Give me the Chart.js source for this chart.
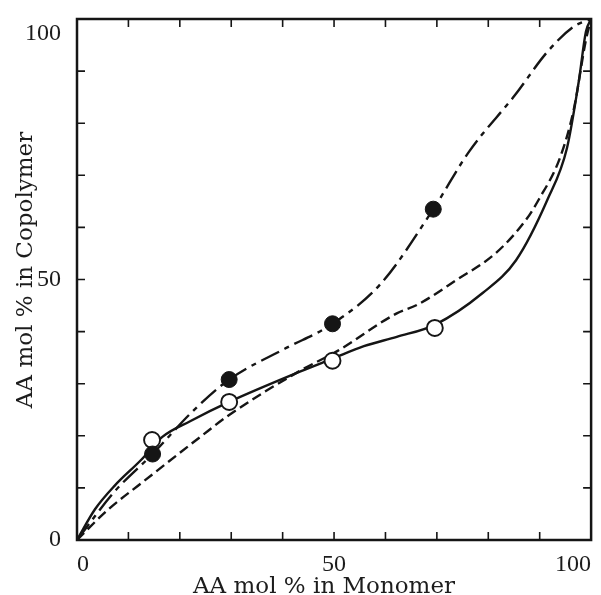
<!DOCTYPE html>
<html>
<head>
<meta charset="utf-8">
<script src="https://cdn.jsdelivr.net/npm/chart.js@4"></script>
<style>
  html, body { margin: 0; padding: 0; background: #fff; }
  #wrap { width: 601px; height: 595px; }
</style>
</head>
<body>
<div id="wrap"><canvas id="chart"></canvas></div>
<script>
// tick labels and minor tick marks
const xTicks = [0, 50, 100];
const yTicks = [0, 50, 100];
const minorTicks = [10, 20, 30, 40, 50, 60, 70, 80, 90];

// measured points
const filledX = [14.7, 29.6, 49.7, 69.3];
const filledY = [16.5, 30.8, 41.5, 63.5];
const openX = [14.6, 29.6, 49.7, 69.6];
const openY = [19.2, 26.5, 34.4, 40.7];

// curves
const dashDotX = [0, 7.3, 14.7, 22.4, 29.6, 40.4, 49.7, 59.1, 69.3, 76.3, 85.2, 91.5, 96.7, 100];
const dashDotY = [0, 9.3, 16.5, 24.6, 30.8, 36.7, 41.5, 49.2, 63.5, 74.6, 85.4, 93.7, 98.6, 100];

const solidX = [0, 3.5, 7.3, 12.5, 16.6, 22.0, 29.6, 43.6, 49.7, 55.8, 62.2, 69.6, 78.9, 85.4, 91.5, 95.3, 97.6, 99.0, 100];
const solidY = [0, 5.9, 10.4, 15.4, 19.8, 22.8, 26.5, 32.4, 34.8, 37.2, 39.0, 41.3, 47.4, 53.7, 65.3, 75.2, 88.0, 97.6, 100];

const dashedX = [0, 6.0, 12.5, 24.0, 29.6, 43.6, 50.7, 62.2, 66.1, 73.8, 81.5, 87.3, 89.8, 94.0, 96.6, 99.0, 100];
const dashedY = [0, 5.8, 10.9, 19.8, 24.0, 32.6, 36.3, 43.5, 45.1, 49.9, 55.1, 61.4, 65.3, 73.5, 82.5, 96.0, 100];

const xTitle = 'AA mol % in Monomer';
const yTitle = 'AA mol % in Copolymer';

const ink = '#151515';
const pts = (xs, ys) => xs.map((x, i) => ({ x, y: ys[i] }));

const framePlugin = {
  id: 'frame',
  afterDraw(chart) {
    const { ctx, chartArea: a, scales: { x, y } } = chart;
    ctx.save();
    ctx.strokeStyle = ink;
    ctx.lineWidth = 2.5;
    ctx.strokeRect(a.left, a.top, a.right - a.left, a.bottom - a.top);

    // inward ticks on all four sides
    ctx.lineWidth = 1.6;
    const len = 8;
    ctx.beginPath();
    minorTicks.forEach(v => {
      const px = x.getPixelForValue(v);
      ctx.moveTo(px, a.bottom); ctx.lineTo(px, a.bottom - len);
      ctx.moveTo(px, a.top); ctx.lineTo(px, a.top + len);
      const py = y.getPixelForValue(v);
      ctx.moveTo(a.left, py); ctx.lineTo(a.left + len, py);
      ctx.moveTo(a.right, py); ctx.lineTo(a.right - len, py);
    });
    ctx.stroke();

    // axis titles
    ctx.fillStyle = '#1c1c1c';
    ctx.font = '23px "DejaVu Serif"';
    ctx.textAlign = 'center';
    ctx.textBaseline = 'alphabetic';
    ctx.fillText(xTitle, 324, 593);
    ctx.translate(32, 270);
    ctx.rotate(-Math.PI / 2);
    ctx.fillText(yTitle, 0, 0);
    ctx.restore();
  }
};

const lineStyle = {
  showLine: true,
  pointRadius: 0,
  borderColor: ink,
  borderWidth: 2.4,
  fill: false,
  cubicInterpolationMode: 'monotone'
};

new Chart(document.getElementById('chart'), {
  type: 'scatter',
  data: {
    datasets: [
      {
        label: 'filled',
        data: pts(filledX, filledY),
        pointRadius: 8,
        pointBackgroundColor: ink,
        pointBorderColor: ink,
        pointBorderWidth: 1
      },
      {
        label: 'open',
        data: pts(openX, openY),
        pointRadius: 8,
        pointBackgroundColor: '#fff',
        pointBorderColor: ink,
        pointBorderWidth: 1.9
      },
      { label: 'dash-dot', data: pts(dashDotX, dashDotY), ...lineStyle, borderDash: [20, 6, 5, 6] },
      { label: 'solid', data: pts(solidX, solidY), ...lineStyle },
      { label: 'dashed', data: pts(dashedX, dashedY), ...lineStyle, borderDash: [10, 5] }
    ]
  },
  options: {
    responsive: true,
    maintainAspectRatio: false,
    devicePixelRatio: 1,
    animation: false,
    layout: { padding: { top: 19, right: 5 } },
    plugins: { legend: { display: false }, tooltip: { enabled: false } },
    scales: {
      x: {
        type: 'linear', min: 0, max: 100,
        grid: { display: false },
        border: { display: false },
        afterBuildTicks: s => { s.ticks = xTicks.map(v => ({ value: v })); },
        afterFit: s => { s.height = 55; s.paddingLeft = 0; s.paddingRight = 0; },
        ticks: {
          align: 'inner', maxRotation: 0, padding: 2, color: '#1c1c1c',
          font: { family: '"Liberation Serif"', size: 24 }
        }
      },
      y: {
        type: 'linear', min: 0, max: 100,
        grid: { display: false },
        border: { display: false },
        afterBuildTicks: s => { s.ticks = yTicks.map(v => ({ value: v })); },
        afterFit: s => { s.width = 77; s.paddingTop = 0; s.paddingBottom = 0; },
        ticks: {
          padding: 8, color: '#1c1c1c',
          font: { family: '"Liberation Serif"', size: 24 },
          // top label sits just under the corner, as in the original
          callback: v => (v === 100 ? ['', String(v)] : String(v))
        }
      }
    }
  },
  plugins: [framePlugin]
});
</script>
</body>
</html>
